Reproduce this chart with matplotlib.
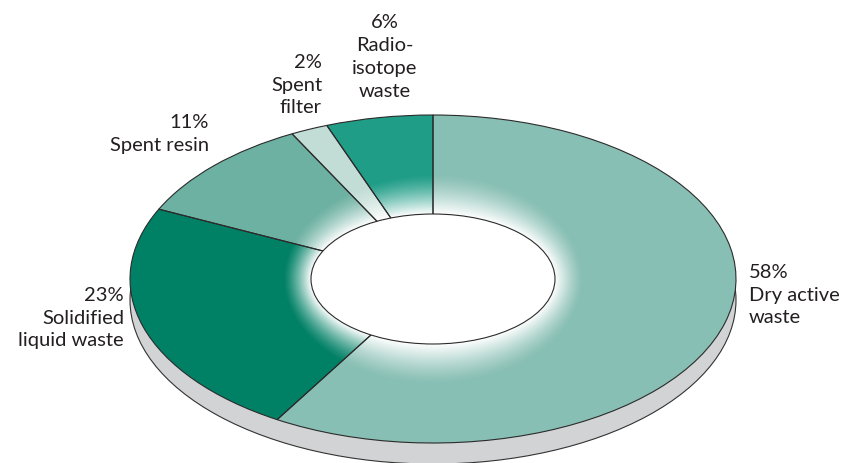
import numpy as np
import matplotlib
matplotlib.use('Agg')
import matplotlib.pyplot as plt
from matplotlib.patches import Ellipse

W, H = 845, 463
CX, CY = 433, 279      # pie centre in pixels
RX, RY = 303, 164      # pie radii in pixels

# slice sizes as measured on the drawing, going clockwise from the top
categories = ['Dry active waste', 'Solidified liquid waste', 'Spent resin', 'Spent filter', 'Radioisotope waste']
shares = [58.6, 23.4, 10.3, 2.0, 5.7]
colors = ['#88bfb4', '#008065', '#6db1a2', '#c1ddd5', '#1f9d87']
# printed labels
label_texts = ['58%\nDry active\nwaste', '23%\nSolidified\nliquid waste', '11%\nSpent resin',
               '2%\nSpent\nfilter', '6%\nRadio-\nisotope\nwaste']
label_pos = [(749, 295, 'left'), (124, 318, 'right'), (209, 134, 'right'),
             (322, 85, 'right'), (385, 57, 'center')]

plt.rcParams['font.family'] = ['Lato', 'DejaVu Sans']

fig = plt.figure(figsize=(W / 100, H / 100), dpi=100)
ax = fig.add_axes([0, 0, 1, 1])

# grey rim below the disc
ax.add_patch(Ellipse((0, -21 / RY), 2, 2, fc='#d1d3d4', ec='#333333', lw=0.8, zorder=1))

# coloured slices, then the white glow, then the outlines on top
ax.pie(shares, colors=colors, startangle=90, counterclock=False,
       wedgeprops={'lw': 0, 'zorder': 2})
ax.pie(shares, colors=['none'] * 5, startangle=90, counterclock=False,
       wedgeprops={'ec': '#2b2b2b', 'lw': 0.8, 'zorder': 4})

gx, gy = np.meshgrid(np.linspace(-1, 1, 800), np.linspace(-1, 1, 800))
hole_a, hole_b = 122 / RX, 65 / RY
glow_a, glow_b = 150 / RX, 105 / RY
u = np.hypot(gx / hole_a, gy / hole_b) + 1e-9
v = np.hypot(gx / glow_a, gy / glow_b)
k = v / u
t = np.clip((1 - v) / (1 - k), 0, 1)
glow = np.ones(gx.shape + (4,))
glow[..., 3] = t ** 1.3
ax.imshow(glow, extent=(-1, 1, -1, 1), origin='lower', zorder=3, aspect='auto')

ax.add_patch(Ellipse((0, 0), 2 * hole_a, 2 * hole_b, fc='white', ec='#2b2b2b', lw=0.8, zorder=5))

ax.set_xlim(-CX / RX, (W - CX) / RX)
ax.set_ylim((CY - H) / RY, CY / RY)
ax.set_aspect('auto')
ax.axis('off')

for txt, (px, py, ha) in zip(label_texts, label_pos):
    fig.text(px / W, 1 - py / H, txt, ha=ha, va='center', ma=ha, fontsize=14.5,
             color='#231f20', linespacing=1.42)

fig.savefig('out.png', dpi=100)
